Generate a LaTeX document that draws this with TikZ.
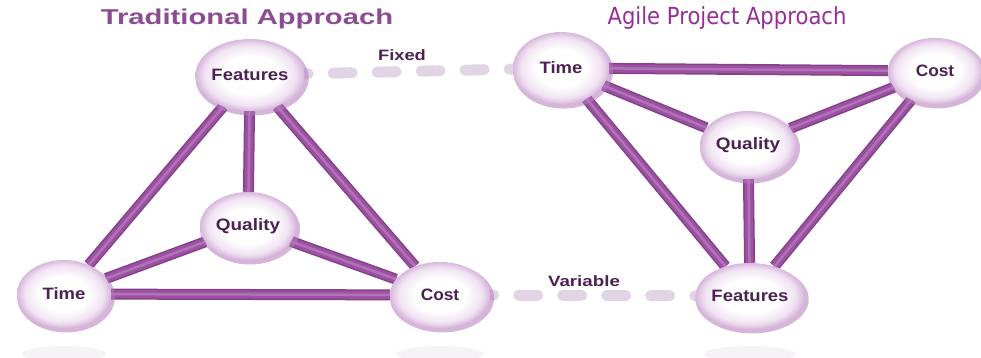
\documentclass[tikz,border=0pt]{standalone}
\usepackage{graphicx}
\usepackage{fontspec}
\setmainfont{Liberation Sans}
\newfontfamily\agilefont{DejaVu Sans}
\usetikzlibrary{shapes.geometric,backgrounds,shadows}

\definecolor{barc}{HTML}{9B52A0}
\definecolor{bardark}{HTML}{853F8C}
\definecolor{barhi}{HTML}{B272B8}
\definecolor{dotc}{HTML}{E0D4E5}
\definecolor{bubblemid}{HTML}{F0E2F2}
\definecolor{bubbleedge}{HTML}{D8B8DD}
\definecolor{glowc}{HTML}{B27ABA}
\definecolor{labelc}{HTML}{4C2252}
\definecolor{tradc}{HTML}{8C4C92}
\definecolor{agilec}{HTML}{972C98}
\definecolor{reflc}{HTML}{F6F3F6}

\pgfdeclareradialshading{bubble}{\pgfpoint{0bp}{0bp}}{color(0bp)=(white); color(13bp)=(white); color(21bp)=(bubblemid); color(25bp)=(bubbleedge); color(50bp)=(bubbleedge)}

\newcommand{\wlbl}[2]{\scalebox{#1}[1]{#2}}

\tikzset{
  bubblenode/.style={ellipse, shade, shading=bubble, inner sep=0pt,
    text=labelc, font=\bfseries\fontsize{16.5}{17}\selectfont,
    general shadow={fill=glowc, shadow scale=1.04, opacity=.55, shadow xshift=2pt, shadow yshift=-3pt}},
  bar/.style={draw=bardark, line width=11pt,
    postaction={draw=barc, line width=8pt},
    postaction={draw=barhi, line width=2.5pt}},
  dots/.style={draw=dotc, line width=11pt, line cap=round, dash pattern=on 19pt off 25pt, dash phase=15.5pt},
  tag/.style={text=labelc, font=\bfseries\fontsize{15}{16}\selectfont}
}

\begin{document}
\begin{tikzpicture}[x=1pt,y=-1pt]
    \useasboundingbox (0,0) rectangle (981,358);

    % reflections
    \fill[reflc] (64,354) ellipse [x radius=42, y radius=8];
    \fill[reflc] (440,354) ellipse [x radius=44, y radius=8];
    \fill[reflc] (750,354) ellipse [x radius=46, y radius=8];

    % titles
    \node[text=tradc, font=\bfseries\fontsize{21.5}{22}\selectfont] (tradtitle) at (247,19) {\wlbl{1.36}{Traditional Approach}};
    \node[text=agilec, font=\agilefont\fontsize{23.5}{24}\selectfont] (agiletitle) at (727,18) {\wlbl{0.9}{Agile Project Approach}};

    % traditional
    \node[bubblenode, minimum width=100pt, minimum height=72pt] (tFeat) at (250,75) {\wlbl{1.12}{Features}};
    \node[bubblenode, minimum width=96pt, minimum height=68pt] (tQual) at (248,226) {\wlbl{1.15}{Quality}};
    \node[bubblenode, minimum width=94pt, minimum height=68pt] (tTime) at (64,294) {\wlbl{1.12}{Time}};
    \node[bubblenode, minimum width=100pt, minimum height=66pt] (tCost) at (440,295) {\wlbl{1.05}{Cost}};

    % agile
    \node[bubblenode, minimum width=96pt, minimum height=72pt] (aTime) at (561,68) {\wlbl{1.12}{Time}};
    \node[bubblenode, minimum width=94pt, minimum height=66pt] (aCost) at (935,71) {\wlbl{1.05}{Cost}};
    \node[bubblenode, minimum width=96pt, minimum height=68pt] (aQual) at (748,145) {\wlbl{1.15}{Quality}};
    \node[bubblenode, minimum width=102pt, minimum height=66pt] (aFeat) at (750,296) {\wlbl{1.12}{Features}};

    \node[tag] (fixed) at (402,55) {\wlbl{1.22}{Fixed}};
    \node[tag] (variable) at (584,281) {\wlbl{1.25}{Variable}};

    \begin{pgfonlayer}{background}
        \draw[dots] (tFeat) -- (aTime);
        \draw[dots] (tCost) -- (aFeat);
        \foreach \a/\b in {tFeat/tTime, tFeat/tQual, tFeat/tCost, tQual/tTime, tQual/tCost, tTime/tCost,
                           aTime/aCost, aTime/aQual, aTime/aFeat, aQual/aCost, aQual/aFeat, aCost/aFeat}
            \draw[bar] (\a) -- (\b);
    \end{pgfonlayer}
\end{tikzpicture}
\end{document}
